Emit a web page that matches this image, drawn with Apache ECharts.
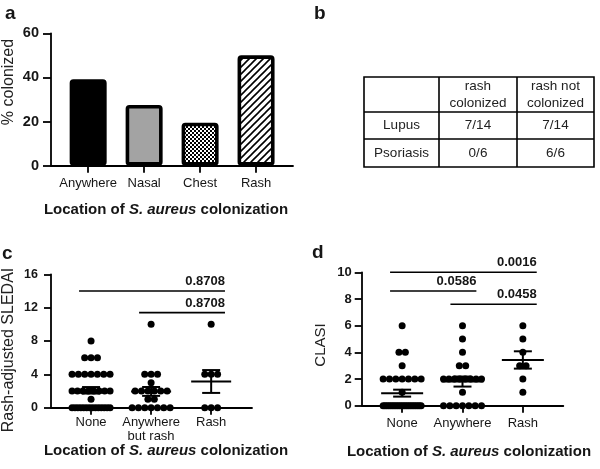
<!DOCTYPE html>
<html><head><meta charset="utf-8">
<script src="https://cdn.jsdelivr.net/npm/echarts@6/dist/echarts.min.js"></script>
<style>html,body{margin:0;padding:0;background:#fff}#c{width:600px;height:469px}</style>
</head><body><div id="c"></div>
<script>
// ---------- Panel a ----------
const barCategories = ['Anywhere', 'Nasal', 'Chest', 'Rash'];
const barValues = [39.2, 27.5, 19.5, 50];
const barTicks = [0, 20, 40, 60];

// ---------- Panel b ----------
const tableHeader = ['', 'rash\ncolonized', 'rash not\ncolonized'];
const tableRowLabels = ['Lupus', 'Psoriasis'];
const tableCells = [['7/14', '7/14'], ['0/6', '6/6']];

// ---------- Panel c (Rash-adjusted SLEDAI) ----------
const sledaiGroups = ['None', 'Anywhere\nbut rash', 'Rash'];
const sledaiNone = [8, 6, 6, 6, 4, 4, 4, 4, 4, 4, 4, 2, 2, 2, 2, 2, 2, 2, 2, 1,
  0, 0, 0, 0, 0, 0, 0, 0, 0, 0, 0, 0, 0, 0];
const sledaiAnywhere = [10, 4, 4, 4, 3, 2, 2, 2, 2, 2, 2, 1, 1, 0, 0, 0, 0, 0, 0, 0];
const sledaiRash = [10, 4, 4, 4, 0, 0, 0];
const sledaiBrackets = [[1, 3, 14, '0.8708'], [2, 3, 11.4, '0.8708']];

// ---------- Panel d (CLASI) ----------
const clasiGroups = ['None', 'Anywhere', 'Rash'];
const clasiNone = [6, 4, 4, 3, 2, 2, 2, 2, 2, 2, 2, 1,
  0, 0, 0, 0, 0, 0, 0, 0, 0, 0, 0, 0, 0, 0, 0, 0, 0, 0, 0, 0, 0, 0];
const clasiAnywhere = [6, 5, 4, 3, 3, 2, 2, 2, 2, 2, 2, 2, 2, 1, 0, 0, 0, 0, 0, 0, 0];
const clasiRash = [6, 5, 4, 3, 3, 2, 1];
const clasiBrackets = [[1, 3, 10, '0.0016'], [1, 2, 8.6, '0.0586'], [2, 3, 7.6, '0.0458']];

// ---------- helpers ----------
const FF = '"Liberation Sans", Arial, sans-serif';
const INK = '#161616';
const AX = { color: '#000', width: 1.8 };

function makeChecker() {
  const c = document.createElement('canvas'); c.width = 4; c.height = 4;
  const g = c.getContext('2d');
  g.fillStyle = '#fff'; g.fillRect(0, 0, 4, 4);
  g.fillStyle = '#000'; g.fillRect(0, 0, 2, 2); g.fillRect(2, 2, 2, 2);
  return c;
}
function makeHatch() {
  const s = 7;
  const c = document.createElement('canvas'); c.width = s; c.height = s;
  const g = c.getContext('2d');
  g.fillStyle = '#fff'; g.fillRect(0, 0, s, s);
  g.strokeStyle = '#000'; g.lineWidth = 1.6;
  g.beginPath();
  g.moveTo(-1, s + 1); g.lineTo(s + 1, -1);
  g.moveTo(-1, 1); g.lineTo(1, -1);
  g.moveTo(s - 1, s + 1); g.lineTo(s + 1, s - 1);
  g.stroke();
  return c;
}
const barFills = ['#000000', '#a3a3a3', { image: makeChecker(), repeat: 'repeat' }, { image: makeHatch(), repeat: 'repeat' }];

function swarm(values, gx, unitPx) {
  const counts = {}, seen = {};
  values.forEach(v => counts[v] = (counts[v] || 0) + 1);
  return values.map(v => {
    const k = counts[v];
    const i = seen[v] = (seen[v] === undefined ? 0 : seen[v] + 1);
    const sp = k > 1 ? Math.min(6.4, 38 / (k - 1)) : 0;
    return [gx + (i - (k - 1) / 2) * sp / unitPx, v];
  });
}
function stats(values, gx) {
  const n = values.length;
  const m = values.reduce((a, b) => a + b, 0) / n;
  const sd = Math.sqrt(values.reduce((a, b) => a + (b - m) * (b - m), 0) / (n - 1));
  const se = sd / Math.sqrt(n);
  return [gx, m, m - se, m + se];
}
function meanRender(half) {
  return function (params, api) {
    const x = api.value(0);
    const c = api.coord([x, api.value(1)]);
    const lo = api.coord([x, api.value(2)]);
    const hi = api.coord([x, api.value(3)]);
    const st = { stroke: '#000', lineWidth: 2 };
    return { type: 'group', children: [
      { type: 'line', shape: { x1: c[0] - half, y1: c[1], x2: c[0] + half, y2: c[1] }, style: st },
      { type: 'line', shape: { x1: c[0], y1: lo[1], x2: c[0], y2: hi[1] }, style: st },
      { type: 'line', shape: { x1: c[0] - 9, y1: lo[1], x2: c[0] + 9, y2: lo[1] }, style: st },
      { type: 'line', shape: { x1: c[0] - 9, y1: hi[1], x2: c[0] + 9, y2: hi[1] }, style: st }
    ] };
  };
}
function bracketRender(list) {
  return function (params, api) {
    const b = list[params.dataIndex];
    const p1 = api.coord([b[0] - 0.2, b[2]]);
    const p2 = api.coord([b[1] + 0.23, b[2]]);
    return { type: 'group', children: [
      { type: 'line', shape: { x1: p1[0], y1: p1[1], x2: p2[0], y2: p2[1] }, style: { stroke: '#000', lineWidth: 1.6 } },
      { type: 'text', x: p2[0], y: p1[1] - 3, style: { text: b[3], align: 'right', verticalAlign: 'bottom',
        font: 'bold 13px ' + FF, fill: INK } }
    ] };
  };
}
function xCat(gridIndex, min, max, names, margin, lh) {
  const vals = names.map((_, i) => i + 1);
  return {
    gridIndex, type: 'value', min, max,
    axisLine: { show: true, onZero: false, lineStyle: AX },
    axisTick: { show: true, customValues: vals, length: 7, lineStyle: AX },
    axisLabel: { show: true, customValues: vals, margin, fontFamily: FF, fontSize: 13, color: INK, lineHeight: lh,
      formatter: v => names[Math.round(v) - 1] || '' },
    splitLine: { show: false }
  };
}
function yVal(gridIndex, max, interval, fs, margin, tick) {
  return {
    gridIndex, type: 'value', min: 0, max, interval,
    axisLine: { show: true, lineStyle: AX },
    axisTick: { show: true, length: tick, lineStyle: AX },
    axisLabel: { margin, fontFamily: FF, fontSize: fs, fontWeight: 'bold', color: INK },
    splitLine: { show: false }
  };
}

const cMin = 0.333, cMax = 3.68, cLeft = 51, cRight = 252;
const dMin = 0.33, dMax = 3.67, dLeft = 361.7, dRight = 563.3;
const cUnit = (cRight - cLeft) / (cMax - cMin);
const dUnit = (dRight - dLeft) / (dMax - dMin);

const sledaiSets = [sledaiNone, sledaiAnywhere, sledaiRash];
const clasiSets = [clasiNone, clasiAnywhere, clasiRash];
const dotStyle = { color: '#000', opacity: 1 };

const series = [
  {
    type: 'bar', xAxisIndex: 0, yAxisIndex: 0, barWidth: 37,
    data: barValues.map((v, i) => ({ value: [i + 1, v],
      itemStyle: { color: barFills[i], borderColor: '#000', borderWidth: 3.6, borderRadius: 2 } }))
  }
];
sledaiSets.forEach((s, i) => series.push({
  type: 'scatter', xAxisIndex: 1, yAxisIndex: 1, symbolSize: 7, clip: false,
  itemStyle: dotStyle, data: swarm(s, i + 1, cUnit)
}));
clasiSets.forEach((s, i) => series.push({
  type: 'scatter', xAxisIndex: 2, yAxisIndex: 2, symbolSize: 7, clip: false,
  itemStyle: dotStyle, data: swarm(s, i + 1, dUnit)
}));
series.push({ type: 'custom', xAxisIndex: 1, yAxisIndex: 1, clip: false, renderItem: meanRender(20),
  data: sledaiSets.map((s, i) => stats(s, i + 1)) });
series.push({ type: 'custom', xAxisIndex: 2, yAxisIndex: 2, clip: false, renderItem: meanRender(21),
  data: clasiSets.map((s, i) => stats(s, i + 1)) });
series.push({ type: 'custom', xAxisIndex: 1, yAxisIndex: 1, clip: false, renderItem: bracketRender(sledaiBrackets),
  data: sledaiBrackets.map(b => [b[0], b[2]]) });
series.push({ type: 'custom', xAxisIndex: 2, yAxisIndex: 2, clip: false, renderItem: bracketRender(clasiBrackets),
  data: clasiBrackets.map(b => [b[0], b[2]]) });

// table graphic
const colX = [364, 439, 517, 594];
const rowY = [77, 112, 139, 167];
const tableEls = [{ type: 'rect', shape: { x: colX[0], y: rowY[0], width: colX[3] - colX[0], height: rowY[3] - rowY[0] },
  style: { fill: '#fff', stroke: '#000', lineWidth: 1.6 } }];
[1, 2].forEach(i => tableEls.push({ type: 'line', shape: { x1: colX[i], y1: rowY[0], x2: colX[i], y2: rowY[3] }, style: { stroke: '#000', lineWidth: 1.6 } }));
[1, 2].forEach(i => tableEls.push({ type: 'line', shape: { x1: colX[0], y1: rowY[i], x2: colX[3], y2: rowY[i] }, style: { stroke: '#000', lineWidth: 1.6 } }));
function cellText(t, ci, ri) {
  return { type: 'text', x: (colX[ci] + colX[ci + 1]) / 2, y: (rowY[ri] + rowY[ri + 1]) / 2,
    style: { text: t, align: 'center', verticalAlign: 'middle', fontFamily: FF, fontSize: 13.5, lineHeight: 17, fill: '#222' } };
}
tableHeader.forEach((t, ci) => { if (t) tableEls.push(cellText(t, ci, 0)); });
tableRowLabels.forEach((t, ri) => {
  tableEls.push(cellText(t, 0, ri + 1));
  tableCells[ri].forEach((v, ci) => tableEls.push(cellText(v, ci + 1, ri + 1)));
});

function letter(t, x, y) {
  return { type: 'text', x, y, style: { text: t, fontFamily: FF, fontSize: 19, fontWeight: 'bold', fill: INK, verticalAlign: 'top' } };
}
function xTitle(x, y) {
  return { type: 'text', x, y, style: {
    text: '{n|Location of }{i|S. aureus}{n| colonization}', align: 'center', verticalAlign: 'middle',
    rich: { n: { fontFamily: FF, fontSize: 15, fontWeight: 'bold', fill: INK },
            i: { fontFamily: FF, fontSize: 15, fontWeight: 'bold', fontStyle: 'italic', fill: INK } } } };
}
function yTitle(t, x, y, fs) {
  return { type: 'text', x, y, rotation: Math.PI / 2, style: { text: t, align: 'center', verticalAlign: 'middle',
    fontFamily: FF, fontSize: fs, fill: '#222' } };
}

const option = {
  backgroundColor: '#fff',
  animation: false,
  grid: [
    { left: 51, right: 600 - 293, top: 33.3, bottom: 469 - 165.7, outerBoundsMode: 'none' },
    { left: cLeft, right: 600 - cRight, top: 274.3, bottom: 469 - 407.7, outerBoundsMode: 'none' },
    { left: dLeft, right: 600 - dRight, top: 272.3, bottom: 469 - 405.7, outerBoundsMode: 'none' }
  ],
  xAxis: [
    xCat(0, 0.336, 4.66, barCategories, 10, 15),
    xCat(1, cMin, cMax, sledaiGroups, 8, 14),
    xCat(2, dMin, dMax, clasiGroups, 10, 15)
  ],
  yAxis: [
    yVal(0, 60, 20, 14.5, 12, 8),
    yVal(1, 16, 4, 12.5, 13, 7),
    yVal(2, 10, 2, 13, 10, 7)
  ],
  series,
  graphic: [
    letter('a', 5, 4), letter('b', 314, 4), letter('c', 2, 244), letter('d', 312, 243),
    xTitle(166, 210), xTitle(166, 451), xTitle(469, 452),
    yTitle('% colonized', 9, 82, 16), yTitle('Rash-adjusted SLEDAI', 9, 350, 16), yTitle('CLASI', 321, 345, 15),
    ...tableEls
  ]
};
const chart = echarts.init(document.getElementById('c'), null, { renderer: 'canvas' });
chart.setOption(option);
</script></body></html>
